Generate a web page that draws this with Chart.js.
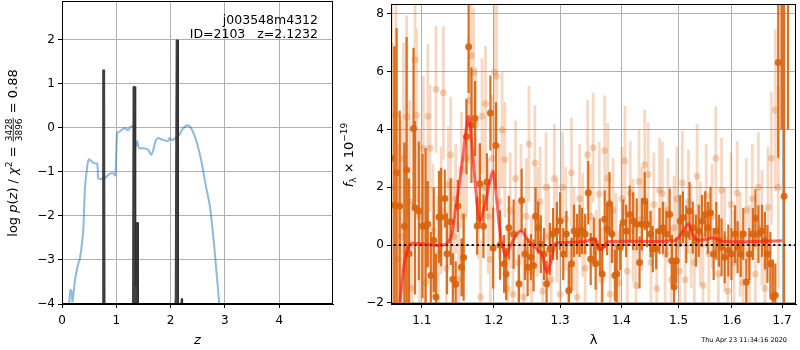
<!DOCTYPE html>
<html>
<head>
<meta charset="utf-8">
<title>j003548m4312 redshift fit</title>
<script src="https://cdn.jsdelivr.net/npm/chart.js@4"></script>
<style>
  html, body { margin: 0; padding: 0; background: #fff; }
  #wrap { position: relative; width: 800px; height: 350px; }
  #pzBox { position: absolute; left: 0; top: 0; width: 340px; height: 350px; }
  #specBox { position: absolute; left: 340px; top: 0; width: 460px; height: 350px; }
</style>
</head>
<body>
<div id="wrap">
  <div id="pzBox"><canvas id="pzChart" width="340" height="350"></canvas></div>
  <div id="specBox"><canvas id="specChart" width="460" height="350"></canvas></div>
</div>
<script>
/* ── Left panel: log p(z) ─────────────────────────────── */
const pzTicksX = [0, 1, 2, 3, 4];
const pzTicksY = [-4, -3, -2, -1, 0, 1, 2];

const pzZ = [0.11, 0.155, 0.18, 0.19, 0.21, 0.238, 0.299, 0.33, 0.391, 0.421, 0.464, 0.501,
  0.544, 0.586, 0.648, 0.666, 0.696, 0.788, 0.88, 0.941, 0.983, 1.014, 1.063, 1.155, 1.216,
  1.277, 1.319, 1.356, 1.387, 1.417, 1.491, 1.582, 1.643, 1.674, 1.723, 1.765, 1.857, 1.949,
  1.979, 2.028, 2.089, 2.163, 2.224, 2.315, 2.376, 2.468, 2.56, 2.651, 2.725, 2.804, 2.896, 2.95];
const pzLogP = [-4.3, -3.68, -3.72, -3.95, -3.8, -3.46, -3.08, -2.97, -2.32, -1.41, -0.87, -0.71,
  -0.76, -0.8, -0.81, -1.14, -1.16, -1.14, -1.04, -1.03, -1.08, -0.11, -0.08, 0.0, -0.05,
  0.04, 0.02, -0.42, -0.3, -0.46, -0.46, -0.49, -0.61, -0.53, -0.3, -0.23, -0.27, -0.3,
  -0.23, -0.28, -0.23, -0.15, -0.02, 0.06, 0.0, -0.27, -0.72, -1.33, -1.79, -2.7, -4.0, -4.6];

// chi2 spikes (filled down to the axis floor)
const chiZ = [0.742, 0.750, 0.785, 0.792, 1.300, 1.308, 1.345, 1.352, 1.362, 1.368, 1.400, 1.405,
  2.080, 2.085, 2.098, 2.102, 2.140, 2.145, 2.190, 2.195, 2.215, 2.220];
const chiVal = [-4, 1.32, 1.32, -4, -4, 0.94, 0.94, -3.6, -3.6, -2.15, -2.15, -4,
  -4, -3.85, -3.85, 2.0, 2.0, -4, -4, -3.88, -3.88, -4];

/* ── Right panel: spectrum ────────────────────────────── */
const specTicksX = [1.1, 1.2, 1.3, 1.4, 1.5, 1.6, 1.7];
const specTicksY = [-2, 0, 2, 4, 6, 8];

const darkLam = [1.060, 1.064, 1.067, 1.071, 1.077, 1.080, 1.083, 1.089, 1.091, 1.096, 1.101, 1.105,
  1.108, 1.112, 1.116, 1.119, 1.123, 1.126, 1.131, 1.134, 1.139, 1.142, 1.146, 1.149, 1.154, 1.157,
  1.161, 1.164, 1.168, 1.173, 1.176, 1.180, 1.185, 1.190, 1.195, 1.199, 1.203, 1.209, 1.215, 1.218,
  1.222, 1.229, 1.237, 1.241, 1.246, 1.250, 1.255, 1.259, 1.262, 1.266, 1.270, 1.275, 1.279, 1.284,
  1.289, 1.295, 1.300, 1.305, 1.310, 1.314, 1.318, 1.322, 1.327, 1.331, 1.335, 1.340, 1.345, 1.349,
  1.354, 1.357, 1.364, 1.368, 1.372, 1.376, 1.380, 1.384, 1.389, 1.392, 1.398, 1.403, 1.408, 1.414,
  1.420, 1.426, 1.431, 1.435, 1.440, 1.444, 1.450, 1.454, 1.460, 1.466, 1.472, 1.478, 1.484, 1.488,
  1.492, 1.496, 1.503, 1.508, 1.514, 1.520, 1.526, 1.532, 1.537, 1.543, 1.549, 1.554, 1.559, 1.565,
  1.570, 1.575, 1.580, 1.586, 1.593, 1.599, 1.606, 1.611, 1.617, 1.622, 1.628, 1.634, 1.641, 1.646,
  1.652, 1.659, 1.665, 1.670, 1.676, 1.681, 1.686, 1.692, 1.699, 1.704, 1.712];
const darkFlux = [3.0, 1.38, 2.5, 1.35, 0.65, 2.6, -0.3, 4.03, 1.29, 1.18, 0.66, 0.65,
  0.72, -1.05, 0.17, -1.8, 0.97, 0.97, 1.61, -0.3, 0.81, -1.18, -1.36, 1.35, -0.77, -0.43,
  3.75, 6.86, 4.15, 4.38, 0.66, 2.12, 0.65, 2.18, 4.57, -0.1, 3.44, 0.0, -0.65, -1.0,
  0.6, 0.38, -1.34, 1.54, -0.31, -0.77, -0.42, -0.71, 1.0, 0.6, 0.03, -0.31, -1.34, -0.14,
  0.38, 0.49, 0.83, -0.31, 0.38, -1.57, -0.65, 0.49, 0.38, 0.49, 0.49, 0.38, 1.81, -0.48,
  0.15, -0.65, -0.08, -1.0, 0.89, 0.55, 1.43, 0.38, -1.05, -1.0, -0.08, 0.78, 0.49, 1.06,
  0.83, 0.72, -0.6, 0.72, 1.52, 0.72, 0.38, -0.14, -0.14, 0.49, 0.6, 0.38, 1.06, -0.54,
  -1.45, -0.54, 0.83, 0.95, 0.38, 1.18, 0.6, 0.15, 0.49, 0.83, 1.06, 0.6, 1.12, -0.31,
  0.49, 0.15, -0.08, -0.42, -0.19, -0.31, 0.38, -0.08, -0.31, 0.38, -1.28, -0.31, 0.38, 0.93,
  0.38, 0.49, 0.15, -0.31, -0.65, -1.8, -1.74, 6.32, 12.0, 1.69, 12.0];
const darkErr = [15, 5.5, 5.0, 3.3, 2.9, 4.6, 2.6, 2.8, 3.0, 2.4, 2.5, 2.7,
  1.5, 1.5, 1.8, 1.5, 1.6, 1.7, 1.0, 1.4, 1.5, 0.9, 0.8, 0.9, 1.0, 1.5,
  1.3, 1.6, 2.0, 1.3, 1.0, 1.4, 1.1, 1.0, 1.3, 1.4, 1.5, 1.2, 1.0, 0.9,
  1.1, 1.2, 1.0, 1.1, 0.9, 1.0, 0.8, 0.9, 1.0, 0.9, 1.0, 0.9, 0.8, 0.9,
  0.9, 1.0, 1.0, 0.9, 0.8, 0.9, 0.9, 0.9, 0.7, 0.9, 0.8, 0.7, 1.1, 0.9,
  0.8, 0.9, 1.0, 1.0, 1.0, 0.9, 1.1, 1.0, 0.9, 1.0, 0.8, 0.8, 0.9, 1.0,
  1.0, 0.9, 0.9, 0.9, 1.0, 0.8, 0.8, 0.8, 0.7, 0.8, 0.9, 0.8, 0.9, 0.9,
  0.9, 0.8, 0.9, 0.9, 1.0, 1.0, 0.9, 0.9, 0.9, 0.9, 0.8, 0.9, 0.9, 0.9,
  1.0, 0.9, 1.0, 0.9, 0.9, 0.9, 1.0, 0.9, 0.8, 0.9, 0.8, 0.9, 0.9, 1.0,
  1.0, 0.9, 1.0, 1.0, 1.1, 1.3, 1.1, 3.3, 8.0, 9.0, 8.0];

const lightLam = [1.062, 1.066, 1.069, 1.073, 1.076, 1.080, 1.084, 1.087, 1.091, 1.093, 1.097, 1.102,
  1.105, 1.108, 1.111, 1.115, 1.119, 1.122, 1.126, 1.129, 1.133, 1.136, 1.139, 1.143, 1.146, 1.150,
  1.154, 1.157, 1.161, 1.164, 1.168, 1.171, 1.174, 1.178, 1.181, 1.183, 1.186, 1.188, 1.192, 1.195,
  1.198, 1.201, 1.204, 1.208, 1.212, 1.216, 1.220, 1.224, 1.228, 1.232, 1.236, 1.240, 1.244, 1.248,
  1.252, 1.256, 1.261, 1.265, 1.269, 1.273, 1.278, 1.282, 1.286, 1.291, 1.295, 1.300, 1.304, 1.309,
  1.313, 1.318, 1.322, 1.327, 1.331, 1.336, 1.340, 1.344, 1.349, 1.353, 1.358, 1.363, 1.367, 1.372,
  1.377, 1.381, 1.386, 1.391, 1.396, 1.401, 1.406, 1.410, 1.415, 1.420, 1.425, 1.430, 1.435, 1.440,
  1.446, 1.451, 1.456, 1.461, 1.466, 1.471, 1.476, 1.481, 1.487, 1.492, 1.497, 1.502, 1.507, 1.512,
  1.518, 1.523, 1.529, 1.534, 1.540, 1.545, 1.551, 1.556, 1.562, 1.569, 1.574, 1.580, 1.586, 1.592,
  1.598, 1.604, 1.610, 1.616, 1.622, 1.628, 1.634, 1.640, 1.646, 1.652, 1.659, 1.665, 1.671, 1.678,
  1.686, 1.692, 1.698];
const lightFlux = [2.0, 4.5, -0.5, 0.3, 3.0, 4.44, 1.5, -1.5, 6.41, 4.49, 1.0, 3.35,
  -1.3, 4.46, 3.35, 0.5, 5.39, -0.3, 1.2, 5.27, -0.8, 2.1, 3.12, 0.3, 1.6, -1.2,
  2.6, 1.0, 3.0, 5.0, 6.55, 5.98, 4.15, 1.5, -1.8, 4.46, 2.0, 4.89, 1.0, -0.5,
  3.0, 5.98, 5.84, 1.5, 3.98, 2.95, -1.5, 1.2, -1.7, 2.3, -0.6, 1.5, -1.8, 1.0,
  3.5, -0.9, 2.84, 0.8, 1.5, -1.6, 2.0, 0.3, -1.2, 2.3, 0.5, -1.7, 2.0, 0.9,
  -1.6, 2.5, 0.2, -1.8, 1.6, 0.7, -0.8, 3.12, 1.0, 3.37, -0.6, 1.77, -1.2, 3.27,
  2.32, -1.7, 1.2, 0.0, -1.3, 1.6, 2.92, -0.9, 1.8, 0.5, -1.4, 2.2, 0.9, 2.78,
  2.44, -0.6, 1.4, -1.5, 1.9, 1.78, -0.3, 1.2, -1.2, 0.6, 1.6, -0.9, 2.15, -1.2,
  1.5, 0.3, -0.6, 2.38, 0.4, -1.4, 1.7, -0.3, 1.0, 3.0, -1.0, 1.9, 0.2, -1.6,
  1.4, -0.6, 1.8, 0.0, -1.3, 1.2, -0.4, 1.6, -1.0, 2.0, 0.6, -1.5, 1.3, 3.0,
  4.67, 2.0, 9.0];
const lightErr = [5.0, 4.5, 4.0, 4.0, 4.0, 3.5, 3.5, 3.0, 3.0, 3.0, 3.0, 2.5,
  2.5, 2.5, 2.2, 2.3, 2.2, 2.0, 2.2, 2.3, 2.0, 2.0, 2.0, 2.0, 1.9, 2.0,
  2.0, 2.0, 2.0, 2.2, 2.3, 2.2, 2.0, 2.0, 2.0, 2.0, 2.0, 2.0, 2.0, 2.0,
  2.2, 2.5, 2.5, 2.0, 2.0, 2.0, 2.0, 2.0, 2.0, 2.0, 2.0, 2.0, 2.0, 2.0,
  2.0, 1.9, 2.0, 1.9, 1.9, 1.9, 1.9, 1.8, 1.8, 1.9, 1.8, 1.8, 1.9, 1.8,
  1.8, 1.9, 1.8, 1.8, 1.9, 1.8, 1.8, 1.9, 1.8, 1.9, 1.8, 1.8, 1.8, 1.9,
  1.9, 1.8, 1.8, 1.8, 1.8, 1.8, 1.9, 1.8, 1.8, 1.8, 1.8, 1.8, 1.8, 1.9,
  1.8, 1.8, 1.8, 1.8, 1.8, 1.8, 1.8, 1.8, 1.8, 1.8, 1.8, 1.8, 1.8, 1.8,
  1.8, 1.8, 1.8, 1.8, 1.8, 1.8, 1.8, 1.8, 1.8, 1.8, 1.8, 1.8, 1.8, 1.8,
  1.8, 1.8, 1.8, 1.8, 1.8, 1.8, 1.8, 1.9, 1.9, 1.9, 2.0, 2.0, 2.1, 2.3,
  2.8, 3.5, 5.0];

const modelLam = [1.066, 1.0713, 1.0769, 1.0834, 1.0877, 1.1342, 1.146, 1.1552, 1.1636, 1.1683,
  1.1739, 1.1796, 1.1882, 1.1984, 1.2023, 1.2096, 1.2169, 1.2242, 1.2391, 1.2515, 1.2641, 1.2717,
  1.2793, 1.2846, 1.2932, 1.3025, 1.3397, 1.3531, 1.3587, 1.3642, 1.3725, 1.3779, 1.4926, 1.5045,
  1.5179, 1.5258, 1.535, 1.5662, 1.5822, 1.70];
const modelFlux = [-3.0, -1.97, -0.65, -0.02, 0.06, 0.06, 1.29, 2.89, 4.44, 3.58,
  1.98, 0.83, 1.52, 2.55, 1.98, 0.38, -0.37, -0.02, 0.49, 0.15, -0.14, -0.31,
  -0.94, -0.65, 0.06, 0.09, 0.12, 0.21, 0.12, -0.17, -0.02, 0.12, 0.15, 0.38,
  0.74, 0.38, 0.17, 0.24, 0.12, 0.15];

/* ── Shared style ─────────────────────────────────────── */
const FONT = 'DejaVu Sans';
const GRID = '#b0b0b0';
const DARK = 'rgba(217,100,14,0.92)';
const LIGHT = 'rgba(222,112,34,0.27)';

const minusFmt = v => (v < 0 ? '\u2212' + Math.abs(v) : String(v));

// build error bars as broken line segments (lo -> hi, gap)
function errorSegments(lam, flux, err) {
  const pts = [];
  lam.forEach((l, i) => {
    pts.push({ x: l, y: flux[i] - err[i] }, { x: l, y: flux[i] + err[i] }, { x: l, y: null });
  });
  return pts;
}
const toXY = (xs, ys) => xs.map((x, i) => ({ x, y: ys[i] }));

// draw rotated label made of pieces (normal / italic / sup / sub / fraction)
function drawVerticalMath(ctx, baseX, cy, parts) {
  ctx.save();
  ctx.translate(baseX, cy);
  ctx.rotate(-Math.PI / 2);
  ctx.fillStyle = '#000';
  ctx.textBaseline = 'alphabetic';
  let total = 0;
  parts.forEach(p => {
    ctx.font = p.font;
    p.w = p.num
      ? Math.max(ctx.measureText(p.num).width, ctx.measureText(p.den).width) + 2
      : ctx.measureText(p.t).width;
    total += p.w;
  });
  let x = -total / 2;
  parts.forEach(p => {
    ctx.font = p.font;
    if (p.num) {
      ctx.textAlign = 'center';
      ctx.fillText(p.num, x + p.w / 2, -5.5);
      ctx.fillText(p.den, x + p.w / 2, 4.5);
      ctx.fillRect(x + 0.5, -4.2, p.w - 1, 0.8);
    } else {
      ctx.textAlign = 'left';
      ctx.fillText(p.t, x, p.dy || 0);
    }
    x += p.w;
  });
  ctx.restore();
}

const framePlugin = {
  id: 'frame',
  afterDraw(chart) {
    const { ctx, chartArea: a } = chart;
    ctx.save();
    ctx.strokeStyle = '#000';
    ctx.lineWidth = 1;
    ctx.strokeRect(Math.round(a.left) + 0.5, Math.round(a.top) + 0.5,
      Math.round(a.right - a.left) - 1, Math.round(a.bottom - a.top) - 1);
    ctx.restore();
  }
};

function axisX(min, max, title, extra) {
  return Object.assign({
    min, max,
    border: { display: true, color: '#000', width: 1 },
    grid: { color: GRID, lineWidth: 1, tickColor: '#000', tickLength: 4 },
    ticks: { color: '#000', font: { family: FONT, size: 12 }, padding: 6, maxRotation: 0, autoSkip: false },
    title: { display: true, text: title, color: '#000', font: { family: FONT, size: 13, style: 'italic' },
      padding: { top: 0, bottom: 2 } },
    afterFit(s) { s.height = 46; s.paddingLeft = 0; s.paddingRight = 0; }
  }, extra);
}
function axisY(min, max, ticks, width, extra) {
  return Object.assign({
    min, max,
    border: { display: true, color: '#000', width: 1 },
    grid: { color: GRID, lineWidth: 1, tickColor: '#000', tickLength: 4 },
    afterBuildTicks(s) { s.ticks = ticks.map(v => ({ value: v })); },
    ticks: { color: '#000', font: { family: FONT, size: 12 }, padding: 3, callback: minusFmt },
    afterFit(s) { s.width = width; s.paddingTop = 0; s.paddingBottom = 0; }
  }, extra);
}

/* ── p(z) chart ───────────────────────────────────────── */
new Chart(document.getElementById('pzChart'), {
  type: 'line',
  data: {
    datasets: [
      {
        data: toXY(chiZ, chiVal),
        borderColor: 'rgba(45,45,45,0.9)',
        backgroundColor: 'rgba(45,45,45,0.9)',
        borderWidth: 1,
        pointRadius: 0,
        tension: 0,
        fill: { value: -4 }
      },
      {
        data: toXY(pzZ, pzLogP),
        borderColor: 'rgba(31,119,180,0.5)',
        borderWidth: 2,
        pointRadius: 0,
        tension: 0.2,
        fill: false
      }
    ]
  },
  options: {
    responsive: false,
    animation: false,
    layout: { padding: { left: 0, right: 7, top: 1, bottom: 0 } },
    plugins: { legend: { display: false }, tooltip: { enabled: false } },
    scales: {
      x: axisX(0, 4.99, 'z', {
        type: 'linear',
        afterBuildTicks(s) { s.ticks = pzTicksX.map(v => ({ value: v })); }
      }),
      y: axisY(-4, 2.886, pzTicksY, 62, { type: 'linear' })
    }
  },
  plugins: [framePlugin, {
    id: 'pzText',
    afterDraw(chart) {
      const ctx = chart.ctx;
      ctx.save();
      ctx.fillStyle = '#000';
      ctx.font = '12.5px ' + FONT;
      ctx.textAlign = 'right';
      ctx.textBaseline = 'alphabetic';
      ctx.fillText('j003548m4312', 318, 24);
      ctx.fillText('ID=2103   z=2.1232', 318, 37.5);
      ctx.restore();
      const n = '13px ' + FONT, it = 'italic 13px ' + FONT, sm = '9px ' + FONT;
      drawVerticalMath(ctx, 17, 153, [
        { t: 'log ', font: n }, { t: 'p', font: it }, { t: '(', font: n }, { t: 'z', font: it },
        { t: ') / ', font: n }, { t: '\u03c7', font: it }, { t: '2', font: sm, dy: -5.5 },
        { t: ' = ', font: n }, { num: '3428', den: '3896', font: sm }, { t: ' = 0.88', font: n }
      ]);
    }
  }]
});

/* ── spectrum chart ───────────────────────────────────── */
new Chart(document.getElementById('specChart'), {
  type: 'line',
  data: {
    datasets: [
      {
        data: toXY(modelLam, modelFlux),
        borderColor: 'rgba(255,25,20,0.65)',
        borderWidth: 3,
        pointRadius: 0,
        tension: 0.3
      },
      {
        data: [{ x: 1.05, y: 0 }, { x: 1.75, y: 0 }],
        borderColor: '#000',
        borderWidth: 2,
        borderDash: [2, 3.2],
        pointRadius: 0
      },
      {
        data: toXY(darkLam, darkFlux),
        showLine: false,
        pointRadius: 3.5,
        pointBorderWidth: 0,
        pointBackgroundColor: DARK
      },
      {
        data: errorSegments(darkLam, darkFlux, darkErr),
        borderColor: DARK,
        borderWidth: 2.2,
        borderCapStyle: 'butt',
        spanGaps: false,
        pointRadius: 0
      },
      {
        data: toXY(lightLam, lightFlux),
        showLine: false,
        pointRadius: 3.5,
        pointBorderWidth: 0,
        pointBackgroundColor: 'rgba(222,112,34,0.3)'
      },
      {
        data: errorSegments(lightLam, lightFlux, lightErr),
        borderColor: LIGHT,
        borderWidth: 2.8,
        borderCapStyle: 'butt',
        spanGaps: false,
        pointRadius: 0
      }
    ]
  },
  options: {
    responsive: false,
    animation: false,
    layout: { padding: { left: 0, right: 1, top: 1, bottom: 0 } },
    plugins: { legend: { display: false }, tooltip: { enabled: false } },
    scales: {
      x: axisX(1.0598, 1.7287, '\u03bb', {
        type: 'logarithmic',
        z: 1,
        afterBuildTicks(s) { s.ticks = specTicksX.map(v => ({ value: v, major: true })); },
        ticks: { color: '#000', font: { family: FONT, size: 12 }, padding: 6, maxRotation: 0, autoSkip: false,
          callback: v => Number(v).toFixed(1) },
        title: { display: true, text: '\u03bb', color: '#000', font: { family: FONT, size: 13 },
          padding: { top: 0, bottom: 2 } }
      }),
      y: axisY(-2.04, 8.34, specTicksY, 51, { type: 'linear', z: 1 })
    }
  },
  plugins: [framePlugin, {
    id: 'specText',
    afterDraw(chart) {
      const ctx = chart.ctx;
      const n = '13px ' + FONT, it = 'italic 13px ' + FONT, sm = '9px ' + FONT;
      drawVerticalMath(ctx, 12.5, 155, [
        { t: 'f', font: it }, { t: '\u03bb', font: sm, dy: 3 }, { t: ' \u00d7 10', font: n },
        { t: '\u221219', font: sm, dy: -6 }
      ]);
      ctx.save();
      ctx.fillStyle = '#000';
      ctx.font = '6.5px ' + FONT;
      ctx.textAlign = 'right';
      ctx.fillText('Thu Apr 23 11:34:16 2020', 447, 342);
      ctx.restore();
    }
  }]
});
</script>
</body>
</html>
